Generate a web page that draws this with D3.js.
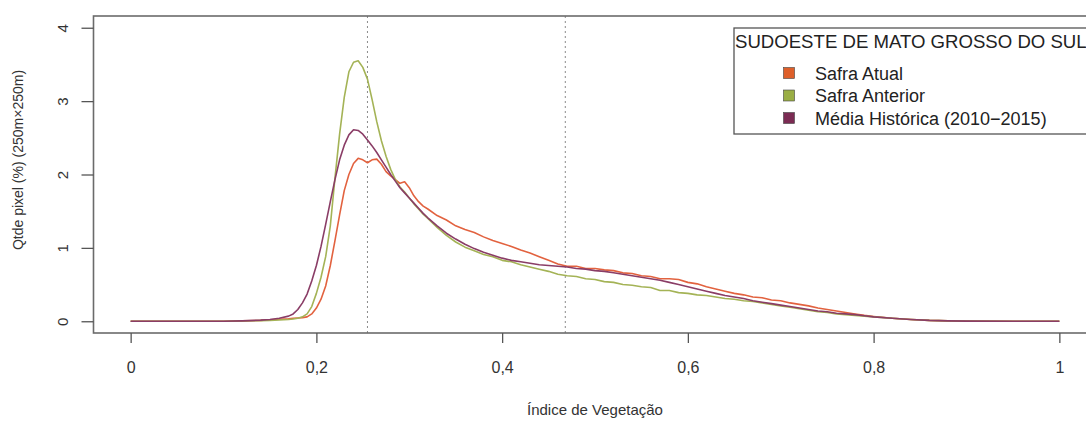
<!DOCTYPE html>
<html>
<head>
<meta charset="utf-8">
<script src="https://cdn.jsdelivr.net/npm/d3@7"></script>
<style>
  body { margin: 0; background: #fff; }
  svg { display: block; font-family: "Liberation Sans", Arial, sans-serif; }
</style>
</head>
<body>
<svg id="chart" width="1086" height="421"></svg>
<script>
// Vegetation index histogram - 3 series

// x values (vegetation index) shared by all series
const ndvi = [0, 0.05, 0.10, 0.12, 0.14, 0.15, 0.16, 0.17,
  0.175, 0.18, 0.185, 0.19, 0.195, 0.20, 0.205, 0.21, 0.215, 0.22, 0.225, 0.23, 0.235, 0.24, 0.245, 0.25,
  0.255, 0.26, 0.265, 0.27, 0.275, 0.28, 0.285, 0.29, 0.295, 0.30, 0.305, 0.31, 0.315, 0.32,
  0.33, 0.34, 0.35, 0.36, 0.37, 0.38, 0.39, 0.40, 0.41, 0.42, 0.43, 0.44, 0.45, 0.46, 0.47, 0.48, 0.49, 0.50,
  0.51, 0.52, 0.53, 0.54, 0.55, 0.56, 0.57, 0.58, 0.59, 0.60, 0.61, 0.62, 0.63, 0.64, 0.65, 0.66, 0.67, 0.68,
  0.69, 0.70, 0.71, 0.72, 0.73, 0.74, 0.75, 0.76, 0.77, 0.78, 0.79, 0.80,
  0.82, 0.84, 0.86, 0.88, 0.90, 0.95, 1.0];

const safraAtual = [0, 0, 0, 0.005, 0.012, 0.02, 0.028, 0.035,
  0.04, 0.045, 0.05, 0.06, 0.1, 0.18, 0.3, 0.48, 0.76, 1.1, 1.45, 1.78, 2.0, 2.15, 2.22, 2.2,
  2.16, 2.2, 2.21, 2.14, 2.04, 1.98, 1.93, 1.88, 1.9, 1.82, 1.71, 1.63, 1.57, 1.53,
  1.44, 1.38, 1.3, 1.25, 1.21, 1.15, 1.1, 1.06, 1.02, 0.97, 0.93, 0.88, 0.83, 0.78, 0.75, 0.75, 0.72, 0.72,
  0.70, 0.69, 0.66, 0.65, 0.62, 0.61, 0.58, 0.58, 0.57, 0.53, 0.51, 0.47, 0.44, 0.41, 0.38, 0.36, 0.33, 0.32,
  0.29, 0.28, 0.25, 0.23, 0.21, 0.18, 0.16, 0.14, 0.12, 0.1, 0.08, 0.065,
  0.04, 0.025, 0.012, 0.005, 0.002, 0, 0];

const safraAnterior = [0, 0, 0, 0.003, 0.008, 0.012, 0.018, 0.025,
  0.03, 0.04, 0.06, 0.1, 0.2, 0.38, 0.6, 0.88, 1.3, 1.95, 2.55, 3.05, 3.4, 3.53, 3.55, 3.46,
  3.3, 3.02, 2.72, 2.46, 2.25, 2.07, 1.93, 1.83, 1.76, 1.68, 1.6, 1.53, 1.46, 1.4,
  1.28, 1.17, 1.08, 1.01, 0.96, 0.91, 0.88, 0.83, 0.81, 0.77, 0.74, 0.71, 0.68, 0.64, 0.62, 0.61, 0.58, 0.57,
  0.54, 0.53, 0.5, 0.49, 0.47, 0.46, 0.42, 0.42, 0.39, 0.38, 0.36, 0.35, 0.33, 0.31, 0.3, 0.28, 0.27, 0.25,
  0.23, 0.21, 0.19, 0.17, 0.15, 0.13, 0.12, 0.1, 0.09, 0.08, 0.07, 0.06,
  0.04, 0.025, 0.012, 0.005, 0.002, 0, 0];

const mediaHistorica = [0, 0, 0, 0.005, 0.015, 0.025, 0.04, 0.07,
  0.1, 0.16, 0.25, 0.37, 0.55, 0.76, 1.02, 1.32, 1.63, 1.93, 2.2, 2.4, 2.54, 2.61, 2.6, 2.55,
  2.47, 2.39, 2.3, 2.2, 2.1, 2.0, 1.91, 1.82, 1.75, 1.68, 1.61, 1.54, 1.47, 1.41,
  1.3, 1.2, 1.12, 1.05, 0.99, 0.94, 0.9, 0.86, 0.83, 0.81, 0.79, 0.77, 0.76, 0.75, 0.74, 0.72, 0.71, 0.69,
  0.68, 0.66, 0.64, 0.62, 0.6, 0.58, 0.56, 0.53, 0.5, 0.47, 0.44, 0.41, 0.38, 0.35, 0.33, 0.31, 0.28, 0.26,
  0.24, 0.22, 0.2, 0.18, 0.16, 0.14, 0.13, 0.11, 0.1, 0.09, 0.075, 0.06,
  0.04, 0.025, 0.012, 0.005, 0.002, 0, 0];

const seriesNames = ["Safra Atual", "Safra Anterior", "Média Histórica (2010\u22122015)"];
const lineColors = ["#e2623f", "#a4b356", "#8a3d66"];
const keyColors = ["#de5f2a", "#9aae44", "#7b2b53"];

const xTicks = [0, 0.2, 0.4, 0.6, 0.8, 1];
const yTicks = [0, 1, 2, 3, 4];
const refLines = [0.255, 0.468]; // dotted vertical lines

const svg = d3.select("#chart");

// plot region (R style, 4% padding on both axes)
const box = {left: 93.5, right: 1096.5, top: 16, bottom: 333};

const xScale = d3.scaleLinear()
  .domain([-0.04, 1.04])
  .range([box.left, box.right]);

const yScale = d3.scaleLinear()
  .domain([-0.16, 4.16])
  .range([box.bottom, box.top]);

// dotted reference lines
svg.selectAll(".ref")
  .data(refLines)
  .enter()
  .append("line")
  .attr("x1", d => xScale(d))
  .attr("x2", d => xScale(d))
  .attr("y1", box.top)
  .attr("y2", box.bottom)
  .attr("stroke", "#8a8a8a")
  .attr("stroke-width", 1)
  .attr("stroke-dasharray", "2,3");

// the three curves
const allSeries = [safraAtual, safraAnterior, mediaHistorica];
const line = d3.line()
  .x((d, i) => xScale(ndvi[i]))
  .y(d => yScale(d));

svg.selectAll(".curve")
  .data(allSeries)
  .enter()
  .append("path")
  .attr("d", d => line(d))
  .attr("fill", "none")
  .attr("stroke", (d, i) => lineColors[i])
  .attr("stroke-width", 1.6)
  .attr("stroke-linejoin", "round");

// box around plot
svg.append("rect")
  .attr("x", box.left)
  .attr("y", box.top)
  .attr("width", box.right - box.left)
  .attr("height", box.bottom - box.top)
  .attr("fill", "none")
  .attr("stroke", "#6b6b6b")
  .attr("stroke-width", 1.6);

// x axis
const xAxis = d3.axisBottom(xScale)
  .tickValues(xTicks)
  .tickSize(10)
  .tickPadding(19)
  .tickFormat(d => String(d).replace(".", ","));

const gx = svg.append("g")
  .attr("transform", `translate(0, ${box.bottom})`)
  .call(xAxis);
gx.select(".domain").remove();
gx.selectAll("line").attr("stroke", "#555").attr("stroke-width", 1.3);
gx.selectAll("text").style("font-size", "16px").attr("fill", "#333");

// y axis (labels rotated like R)
const yAxis = d3.axisLeft(yScale)
  .tickValues(yTicks)
  .tickSize(12)
  .tickFormat(d3.format("d"));

const gy = svg.append("g")
  .attr("transform", `translate(${box.left}, 0)`)
  .call(yAxis);
gy.select(".domain").remove();
gy.selectAll("line").attr("stroke", "#555").attr("stroke-width", 1.3);
gy.selectAll("text")
  .attr("x", null)
  .attr("dy", "0.35em")
  .attr("transform", "translate(-31,0) rotate(-90)")
  .attr("text-anchor", "middle")
  .style("font-size", "15px")
  .attr("fill", "#333");

// axis titles
svg.append("text")
  .attr("x", 595)
  .attr("y", 415)
  .attr("text-anchor", "middle")
  .style("font-size", "15px")
  .attr("fill", "#333")
  .text("Índice de Vegetação");

svg.append("text")
  .attr("transform", "translate(23, 160) rotate(-90)")
  .attr("text-anchor", "middle")
  .style("font-size", "14px")
  .attr("fill", "#333")
  .text("Qtde pixel (%) (250m\u00d7250m)");

// legend
const legend = svg.append("g");
legend.append("rect")
  .attr("x", 734)
  .attr("y", 28)
  .attr("width", 380)
  .attr("height", 106)
  .attr("fill", "#fff")
  .attr("stroke", "#555")
  .attr("stroke-width", 1.3);

legend.append("text")
  .attr("x", 735)
  .attr("y", 48)
  .style("font-size", "18.6px")
  .attr("fill", "#222")
  .text("SUDOESTE DE MATO GROSSO DO SUL");

const keys = legend.selectAll(".key")
  .data(seriesNames)
  .enter()
  .append("g")
  .attr("transform", (d, i) => `translate(0, ${73 + i * 22.5})`);

keys.append("rect")
  .attr("x", 783.5)
  .attr("y", -5.5)
  .attr("width", 11)
  .attr("height", 11)
  .attr("fill", (d, i) => keyColors[i])
  .attr("stroke", "#444")
  .attr("stroke-width", 0.6);

keys.append("text")
  .attr("x", 815)
  .attr("y", 6.5)
  .style("font-size", "18px")
  .attr("fill", "#222")
  .text(d => d);
</script>
</body>
</html>
